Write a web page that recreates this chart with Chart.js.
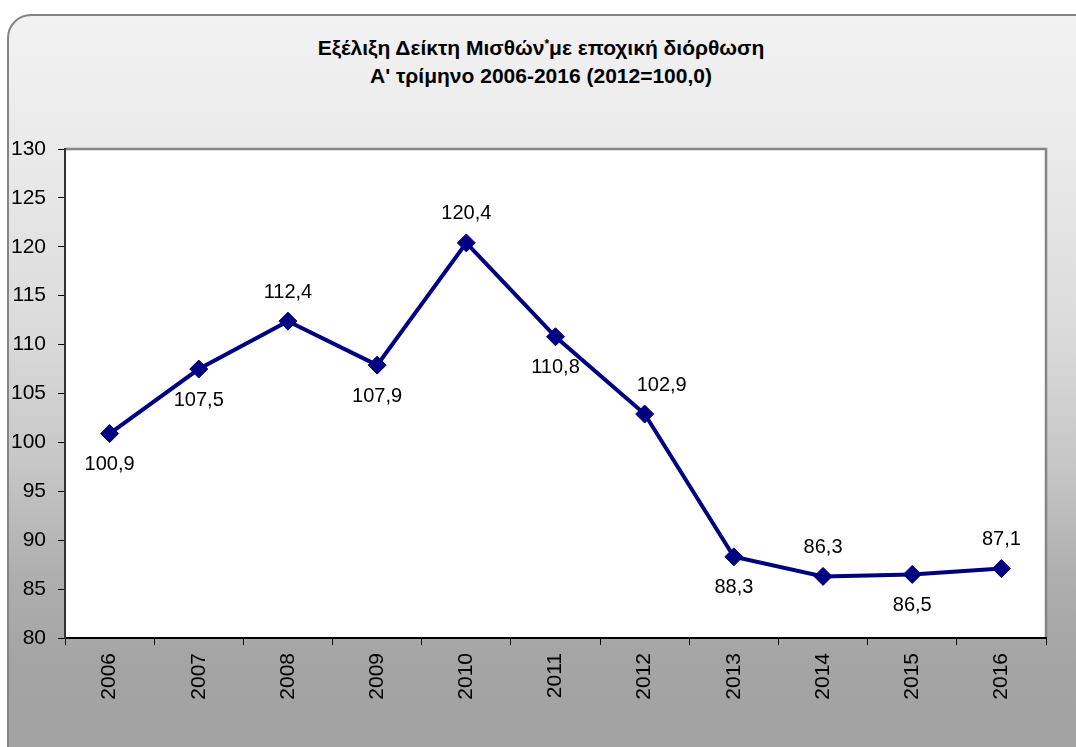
<!DOCTYPE html>
<html>
<head>
<meta charset="utf-8">
<script src="https://cdn.jsdelivr.net/npm/chart.js@4/dist/chart.umd.min.js"></script>
<style>
  body { margin: 0; width: 1076px; height: 747px; overflow: hidden; background: #ffffff; position: relative; font-family: 'Liberation Sans', Arial, sans-serif; }
  #card {
    position: absolute; left: 7px; top: 14px; width: 1100px; height: 770px;
    border: 2px solid #858585; border-radius: 24px; box-sizing: border-box;
    background: linear-gradient(to bottom, #f2f2f2 0px, #e9e9e9 150px, #dadada 320px, #c6c6c6 450px, #aeaeae 560px, #a4a4a4 650px, #a2a2a2 770px);
  }
  #title {
    position: absolute; left: 191px; width: 700px; top: 34px; text-align: center;
    font-weight: bold; font-size: 21px; line-height: 28px; color: #000;
  }
  #title sup { font-size: 12px; position: relative; top: -4px; vertical-align: top; }
  canvas { position: absolute; left: 0; top: 0; }
</style>
</head>
<body>
<div id="card"></div>
<div id="title">Εξέλιξη Δείκτη Μισθών<sup>*</sup>με εποχική διόρθωση<br>Α' τρίμηνο 2006-2016 (2012=100,0)</div>
<canvas id="chart" width="1076" height="747"></canvas>
<script>
// Δεδομένα
const years = ['2006', '2007', '2008', '2009', '2010', '2011', '2012', '2013', '2014', '2015', '2016'];
const wageIndex = [100.9, 107.5, 112.4, 107.9, 120.4, 110.8, 102.9, 88.3, 86.3, 86.5, 87.1];
const labelSide = ['below', 'below', 'above', 'below', 'above', 'below', 'above', 'below', 'above', 'below', 'above'];
const yTicks = [80, 85, 90, 95, 100, 105, 110, 115, 120, 125, 130];

Chart.defaults.font.family = "'Liberation Sans', Arial, sans-serif";
Chart.defaults.color = '#000';

const plotFrame = {
    id: 'plotFrame',
    beforeDraw(chart) {
        const a = chart.chartArea, ctx = chart.ctx;
        ctx.save();
        ctx.fillStyle = '#ffffff';
        ctx.fillRect(a.left, a.top, a.right - a.left, a.bottom - a.top);
        ctx.strokeStyle = '#858585';
        ctx.lineWidth = 2.5;
        ctx.beginPath();
        ctx.moveTo(a.left, a.top);
        ctx.lineTo(a.right, a.top);
        ctx.lineTo(a.right, a.bottom);
        ctx.stroke();
        ctx.restore();
    }
};

const valueLabels = {
    id: 'valueLabels',
    afterDatasetsDraw(chart) {
        const ctx = chart.ctx;
        const pts = chart.getDatasetMeta(0).data;
        ctx.save();
        ctx.font = "20px 'Liberation Sans', Arial, sans-serif";
        ctx.fillStyle = '#000';
        ctx.textAlign = 'center';
        ctx.textBaseline = 'middle';
        pts.forEach(function (p, i) {
            const txt = wageIndex[i].toFixed(1).replace('.', ',');
            let dx = 0;
            if (i === 6) dx = 17;
            const dy = labelSide[i] === 'above' ? -29 : 31;
            ctx.fillText(txt, p.x + dx, p.y + dy);
        });
        ctx.restore();
    }
};

new Chart(document.getElementById('chart'), {
    type: 'line',
    data: {
        labels: years,
        datasets: [{
            data: wageIndex,
            borderColor: '#000080',
            backgroundColor: '#000080',
            borderWidth: 4,
            pointStyle: 'rectRot',
            pointRadius: 9,
            pointHoverRadius: 9,
            pointBackgroundColor: '#000080',
            pointBorderColor: '#000080',
            pointBorderWidth: 1,
            tension: 0
        }]
    },
    options: {
        responsive: false, animation: false,
        layout: { padding: { top: 149, right: 30, bottom: 0, left: 0 } },
        plugins: { legend: { display: false }, tooltip: { enabled: false } },
        scales: {
            x: {
                offset: true,
                grid: { offset: true, drawOnChartArea: false, drawTicks: true, tickLength: 7, color: '#000', lineWidth: 1 },
                border: { color: '#000', width: 2 },
                ticks: { font: { size: 21 }, color: '#000', maxRotation: 90, minRotation: 90, padding: 8 },
                afterFit(s) { s.height = 109; }
            },
            y: {
                min: 80, max: 130,
                afterBuildTicks(s) { s.ticks = yTicks.map(v => ({ value: v })); },
                grid: { drawOnChartArea: false, drawTicks: true, tickLength: 7, color: '#000', lineWidth: 1 },
                border: { color: '#333', width: 2 },
                ticks: { font: { size: 21 }, color: '#000', padding: 12 },
                afterFit(s) { s.width = 65; }
            }
        }
    },
    plugins: [plotFrame, valueLabels]
});
</script>
</body>
</html>
